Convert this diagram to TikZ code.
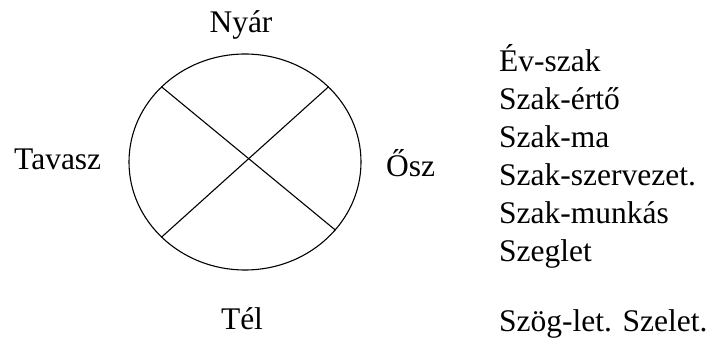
\documentclass[tikz,border=0pt]{standalone}
\usepackage{fontspec}
\setmainfont{Liberation Serif}
\usetikzlibrary{shapes.geometric}
\begin{document}
\begin{tikzpicture}[x=1pt,y=-1pt,
  lbl/.style={anchor=base,inner sep=0pt,font=\fontsize{31.5}{36}\selectfont},
  lst/.style={anchor=base west,inner sep=0pt,font=\fontsize{31.5}{36}\selectfont},
  ln/.style={line width=1.1pt}]
\useasboundingbox (0,0) rectangle (712,352);
\node[ellipse,draw,ln,minimum width=232pt,minimum height=216pt,inner sep=0pt] (circ) at (245,162) {};
\draw[ln] (circ.138) -- (circ.323);
\draw[ln] (circ.42) -- (circ.222);
\node[lbl] (nyar) at (241,33) {Nyár};
\node[lbl,anchor=base west] (tavasz) at (14,170) {Tavasz};
\node[lbl,anchor=base west] (osz) at (386,177) {Ősz};
\node[lbl] (tel) at (242,330) {Tél};
\node[lst] (l1) at (499,72) {Év-szak};
\node[lst] (l2) at (499,110) {Szak-értő};
\node[lst] (l3) at (499,148) {Szak-ma};
\node[lst] (l4) at (499,186) {Szak-szervezet.};
\node[lst] (l5) at (499,224) {Szak-munkás};
\node[lst] (l6) at (499,262) {Szeglet};
\node[lst] (l7) at (499,332) {Szög-let. Szelet.};
\end{tikzpicture}
\end{document}
